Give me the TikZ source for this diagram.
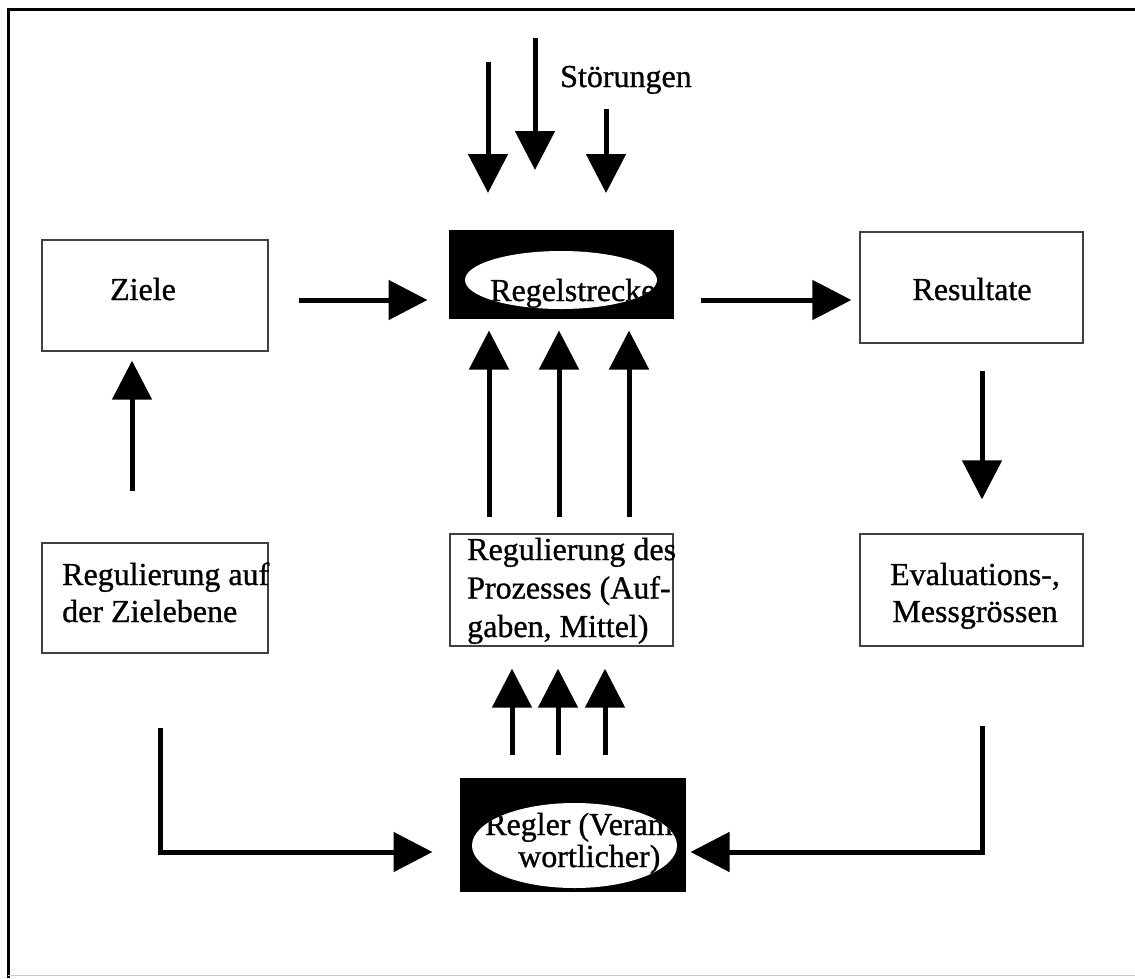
\documentclass[tikz,border=0pt]{standalone}
\usepackage{fontspec}
\setmainfont{Liberation Serif}[FakeBold=0.9]
\usetikzlibrary{arrows.meta,shapes.geometric}
\begin{document}
\begin{tikzpicture}[x=1pt,y=-1pt,
  box/.style={draw=black!75, line width=1.3pt, inner sep=0pt},
  blk/.style={fill=black, draw=black, line width=1pt, inner sep=0pt},
  oval/.style={ellipse, fill=white, inner sep=0pt},
  txt/.style={font=\fontsize{32}{37}\selectfont, inner sep=0pt},
  arr/.style={line width=5pt, -{Triangle[width=39pt,length=39pt]}},
  frame/.style={line width=3pt, black}]
\useasboundingbox (0,0) rectangle (1135,978);
% frame
\coordinate (f1) at (1135,9);
\coordinate (f2) at (8,9);
\coordinate (f3) at (8,978);
\draw[frame] (f1) -- (f2) -- (f3);
\coordinate (b1) at (8,975);
\coordinate (b2) at (1135,975);
\draw[black!20, line width=1pt] (b1) -- (b2);

% boxes
\node[box, minimum width=226pt, minimum height=111pt] (ziele) at (155,295.5) {};
\node[txt, anchor=base] (zieleT) at (143,300) {Ziele};

\node[box, minimum width=226pt, minimum height=110pt] (zeb) at (155,598) {};
\node[txt, anchor=base west] (zebT1) at (62,585) {Regulierung auf};
\node[txt, anchor=base west] (zebT2) at (62,622) {der Zielebene};

\node[box, minimum width=223pt, minimum height=112pt] (proz) at (561.5,590) {};
\node[txt, anchor=base west] (prozT1) at (467,560) {Regulierung des};
\node[txt, anchor=base west] (prozT2) at (467,598.5) {Prozesses (Auf-};
\node[txt, anchor=base west] (prozT3) at (467,637) {gaben, Mittel)};

\node[box, minimum width=223pt, minimum height=111pt] (res) at (971.5,287.5) {};
\node[txt, anchor=base] (resT) at (972,300) {Resultate};

\node[box, minimum width=223pt, minimum height=112pt] (eval) at (971.5,590) {};
\node[txt, anchor=base] (evalT1) at (975,585) {Evaluations-,};
\node[txt, anchor=base] (evalT2) at (975,622) {Messgrössen};

% Regelstrecke
\node[blk, minimum width=224pt, minimum height=88pt] (rs) at (561,274) {};
\node[oval, minimum width=192pt, minimum height=58pt] (rsE) at (561,280) {};
\begin{scope}
  \clip (561,280) ellipse [x radius=96pt, y radius=29pt];
  \node[txt, anchor=base west] (rsT) at (490,301) {Regelstrecke};
\end{scope}

% Regler
\node[blk, minimum width=225pt, minimum height=113pt] (reg) at (572.5,834.5) {};
\node[oval, minimum width=205pt, minimum height=85pt] (regE) at (574.5,845.5) {};
\begin{scope}
  \clip (574.5,845.5) ellipse [x radius=102.5pt, y radius=42.5pt];
  \node[txt, anchor=base west] (regT1) at (485,835) {Regler (Veram-};
  \node[txt, anchor=base west] (regT2) at (518,867) {wortlicher)};
\end{scope}

% Störungen
\node[txt, anchor=base west] (stoer) at (560,87) {Störungen};
\coordinate (s1a) at (488,62);  \coordinate (s1b) at (488,193);
\coordinate (s2a) at (535,38);  \coordinate (s2b) at (535,170);
\coordinate (s3a) at (606,109); \coordinate (s3b) at (606,193);
\draw[arr] (s1a) -- (s1b);
\draw[arr] (s2a) -- (s2b);
\draw[arr] (s3a) -- (s3b);

% horizontal arrows
\draw[arr] ([shift={(30,4.5)}]ziele.east) -- ([shift={(-21,26)}]rs.west);
\draw[arr] ([shift={(27,26)}]rs.east) -- ([shift={(-8,12.5)}]res.west);

% vertical arrows
\draw[arr] ([shift={(10.5,27)}]res.south) -- ([shift={(10.5,-34)}]eval.north);
\draw[arr] ([shift={(-23,-51)}]zeb.north) -- ([shift={(-23,9)}]ziele.south);
\draw[arr] ([shift={(-72.5,-16)}]proz.north) -- ([shift={(-72,12)}]rs.south);
\draw[arr] ([shift={(-2.5,-16)}]proz.north) -- ([shift={(-2,12)}]rs.south);
\draw[arr] ([shift={(67.5,-16)}]proz.north) -- ([shift={(68,12)}]rs.south);
\draw[arr] ([shift={(-60.5,-23)}]reg.north) -- ([shift={(-49.5,22)}]proz.south);
\draw[arr] ([shift={(-14.5,-23)}]reg.north) -- ([shift={(-3.5,22)}]proz.south);
\draw[arr] ([shift={(32.5,-23)}]reg.north) -- ([shift={(43.5,22)}]proz.south);

% L-shaped arrows
\draw[arr] ([shift={(5,74)}]zeb.south) |- ([shift={(-27,17.5)}]reg.west);
\draw[arr] ([shift={(10.5,79)}]eval.south) |- ([shift={(5,17.5)}]reg.east);
\end{tikzpicture}
\end{document}
